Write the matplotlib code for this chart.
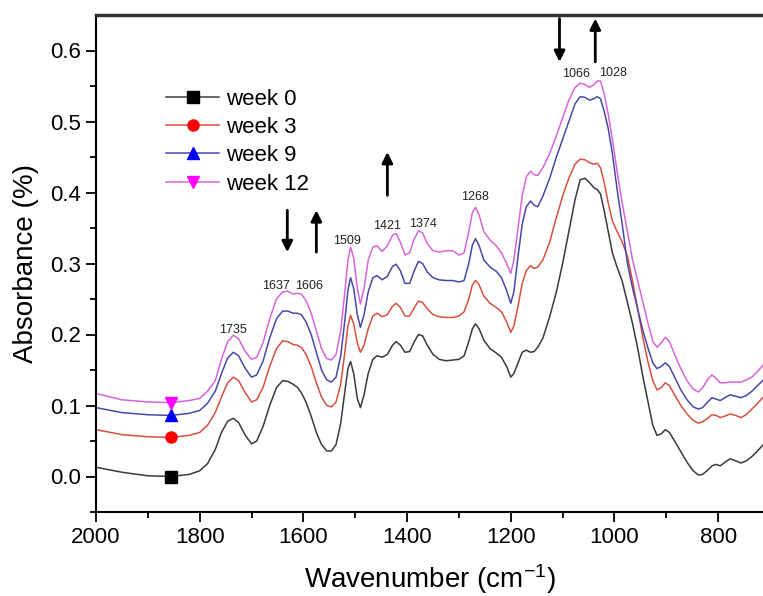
import matplotlib
matplotlib.use('Agg')
import matplotlib.pyplot as plt

plt.rcParams['font.family'] = ['Liberation Sans', 'DejaVu Sans']
plt.rcParams['mathtext.fontset'] = 'custom'
plt.rcParams['mathtext.rm'] = 'Liberation Sans'
plt.rcParams['mathtext.it'] = 'Liberation Sans:italic'

# wavenumber grid (cm-1)
wavenumber = [2000, 1950, 1900, 1855, 1820, 1800, 1785, 1770, 1758, 1746,
              1735, 1725, 1712, 1700, 1690, 1678, 1665, 1652, 1640, 1630,
              1620, 1612, 1604, 1595, 1585, 1575, 1565, 1555, 1546, 1537,
              1528, 1520, 1514, 1509, 1503, 1496, 1490, 1483, 1475, 1466,
              1458, 1448, 1438, 1428, 1421, 1413, 1404, 1395, 1386, 1378,
              1370, 1361, 1350, 1338, 1325, 1312, 1300, 1290, 1281, 1274,
              1268, 1261, 1252, 1240, 1228, 1218, 1208, 1200, 1194, 1186,
              1178, 1170, 1162, 1155, 1148, 1138, 1125, 1112, 1100, 1088,
              1076, 1066, 1057, 1048, 1040, 1033, 1027, 1020, 1012, 1004,
              995, 985, 975, 965, 955, 945, 935, 926, 918, 910,
              902, 894, 884, 872, 860, 848, 838, 830, 820, 812,
              804, 796, 787, 777, 766, 756, 746, 735, 724, 713]

week0 = [.013, .006, .001, .000, .003, .008, .018, .038, .062, .078,
         .082, .076, .058, .046, .050, .070, .100, .125, .135, .134,
         .130, .126, .118, .105, .085, .062, .045, .036, .036, .045,
         .075, .120, .152, .162, .145, .110, .097, .115, .145, .165,
         .170, .168, .172, .185, .190, .185, .175, .176, .190, .200,
         .198, .185, .172, .165, .163, .164, .165, .170, .190, .208,
         .215, .208, .192, .180, .174, .168, .155, .140, .145, .160,
         .175, .178, .175, .176, .182, .195, .225, .260, .300, .345,
         .390, .418, .420, .414, .407, .404, .398, .375, .345, .315,
         .295, .275, .245, .215, .180, .140, .104, .072, .058, .060,
         .066, .062, .050, .035, .020, .008, .002, .003, .009, .015,
         .017, .015, .020, .025, .022, .019, .022, .028, .036, .045]

week3 = [.066, .059, .056, .055, .058, .062, .072, .090, .112, .132,
         .140, .135, .118, .105, .108, .125, .155, .180, .191, .190,
         .186, .185, .182, .172, .155, .132, .112, .100, .098, .105,
         .130, .175, .212, .227, .215, .188, .175, .185, .208, .226,
         .230, .225, .228, .240, .244, .238, .226, .226, .238, .247,
         .245, .236, .228, .225, .224, .224, .226, .232, .250, .270,
         .276, .270, .254, .244, .238, .232, .218, .203, .212, .240,
         .272, .290, .297, .293, .295, .305, .330, .365, .395, .420,
         .440, .447, .446, .442, .440, .441, .435, .415, .385, .360,
         .345, .330, .310, .275, .235, .195, .160, .135, .122, .125,
         .132, .128, .115, .100, .088, .079, .075, .077, .082, .087,
         .086, .083, .085, .088, .086, .083, .087, .095, .103, .112]

week9 = [.097, .090, .087, .086, .089, .093, .103, .120, .145, .167,
         .175, .170, .152, .140, .143, .162, .195, .222, .233, .233,
         .230, .230, .228, .218, .200, .175, .150, .136, .133, .140,
         .170, .220, .263, .280, .265, .228, .210, .228, .260, .280,
         .283, .277, .282, .296, .299, .290, .272, .272, .290, .303,
         .300, .288, .280, .277, .276, .276, .274, .276, .300, .326,
         .335, .325, .305, .295, .289, .280, .262, .244, .260, .310,
         .355, .380, .388, .382, .380, .395, .420, .450, .475, .500,
         .525, .535, .534, .530, .532, .535, .532, .515, .490, .455,
         .405, .355, .300, .265, .235, .205, .180, .160, .152, .155,
         .160, .155, .140, .122, .108, .098, .095, .097, .105, .111,
         .109, .107, .111, .115, .113, .111, .114, .120, .128, .136]

week12 = [.117, .108, .105, .104, .107, .110, .120, .135, .165, .190,
          .199, .194, .176, .165, .168, .188, .222, .250, .260, .261,
          .257, .258, .257, .248, .230, .205, .180, .166, .164, .172,
          .205, .260, .305, .323, .308, .265, .243, .265, .305, .323,
          .325, .317, .325, .340, .342, .330, .312, .315, .335, .346,
          .343, .328, .318, .316, .318, .318, .312, .315, .345, .372,
          .379, .368, .345, .333, .325, .315, .300, .286, .305, .350,
          .395, .422, .430, .425, .424, .435, .455, .480, .505, .530,
          .548, .554, .552, .548, .552, .557, .557, .540, .510, .475,
          .430, .385, .345, .305, .275, .245, .215, .190, .182, .188,
          .196, .190, .172, .152, .135, .123, .119, .125, .137, .143,
          .138, .132, .132, .133, .133, .133, .136, .140, .148, .157]

labels = ['week 0', 'week 3', 'week 9', 'week 12']
line_colors = ['#3a3a3a', '#d8503f', '#4848a8', '#d865d8']
marker_colors = ['black', 'red', 'blue', 'magenta']
markers = ['s', 'o', '^', 'v']

# peak labels: text, wavenumber, absorbance
peak_text = ['1735', '1637', '1606', '1509', '1421', '1374', '1268', '1066', '1028']
peak_x = [1736, 1652, 1590, 1515, 1438, 1369, 1269, 1075, 1002]
peak_y = [0.206, 0.269, 0.269, 0.332, 0.353, 0.356, 0.393, 0.567, 0.568]

# arrows: wavenumber, tail y, head y
arrow_x = [1631, 1575, 1438, 1106, 1037]
arrow_tail = [0.375, 0.316, 0.396, 0.645, 0.584]
arrow_head = [0.316, 0.375, 0.457, 0.584, 0.645]

fig = plt.figure(figsize=(7.63, 5.96), dpi=100)
ax = fig.add_axes([96 / 763, 1 - 512 / 596, 667 / 763, 497 / 596])

series = [week0, week3, week9, week12]
mark_idx = wavenumber.index(1855)
for vals, lab, lc, mc, mk in zip(series, labels, line_colors, marker_colors, markers):
    ax.plot(wavenumber, vals, color=lc, lw=1.1, label=lab,
            marker=mk, markevery=[mark_idx], markersize=8,
            markerfacecolor=mc, markeredgecolor=mc)

for t, x, y in zip(peak_text, peak_x, peak_y):
    ax.text(x, y, t, fontsize=9, ha='center', va='center', color='#222222')

for x, y0, y1 in zip(arrow_x, arrow_tail, arrow_head):
    ax.annotate('', xy=(x, y1), xytext=(x, y0),
                arrowprops=dict(arrowstyle='-|>', lw=2, color='black',
                                mutation_scale=16, shrinkA=0, shrinkB=0),
                annotation_clip=False)

ax.set_xlim(2000, 713.5)
ax.set_ylim(-0.05, 0.65)
ax.set_xticks([2000, 1800, 1600, 1400, 1200, 1000, 800])
ax.set_xticks([1900, 1700, 1500, 1300, 1100, 900], minor=True)
ax.set_yticks([0.0, 0.1, 0.2, 0.3, 0.4, 0.5, 0.6])
ax.set_yticks([-0.05, 0.05, 0.15, 0.25, 0.35, 0.45, 0.55], minor=True)
ax.set_yticklabels(['0.0', '0.1', '0.2', '0.3', '0.4', '0.5', '0.6'])
ax.tick_params(which='major', direction='out', length=7, width=1.3, labelsize=16, pad=4)
ax.tick_params(which='minor', direction='out', length=4, width=1.3)

ax.spines['right'].set_visible(False)
ax.spines['left'].set_linewidth(1.5)
ax.spines['bottom'].set_linewidth(1.5)
ax.spines['top'].set_linewidth(2.5)
ax.spines['top'].set_color('#333333')

ax.set_xlabel('Wavenumber (cm$^{-1}$)', fontsize=20, labelpad=10)
ax.set_ylabel('Absorbance (%)', fontsize=20, labelpad=8)

ax.legend(loc='upper left', bbox_to_anchor=(0.105, 0.852), frameon=False,
          fontsize=16, handlelength=2.4, handletextpad=0.3, labelspacing=0.33,
          borderaxespad=0, borderpad=0)

fig.savefig('out.png', dpi=100)
